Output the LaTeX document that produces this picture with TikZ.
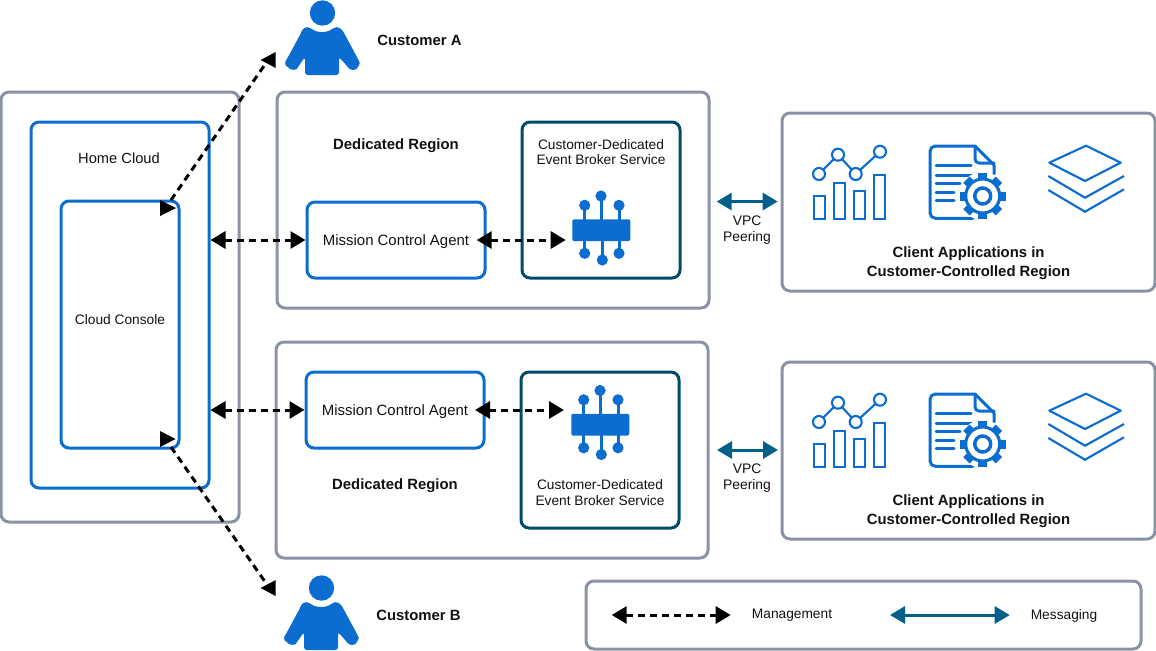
\documentclass[tikz,border=0pt]{standalone}
\usepackage{fontspec}
\setmainfont{Liberation Sans}
\usetikzlibrary{arrows.meta}
\definecolor{graybox}{HTML}{8A93A3}
\definecolor{bluebox}{HTML}{0C6DD0}
\definecolor{tealbox}{HTML}{004B6B}
\definecolor{tealarrow}{HTML}{00608A}
\definecolor{ink}{HTML}{111111}
\tikzset{
  x=0.75pt,y=-0.75pt,
  box/.style={draw,line width=2.25pt,rounded corners=6pt,fill=none,inner sep=0pt},
  graywide/.style={box,draw=graybox},
  bluewide/.style={box,draw=bluebox},
  tealwide/.style={box,draw=tealbox},
  lab/.style={text=ink,font=\fontsize{10.3pt}{11.4pt}\selectfont,align=center,inner sep=0pt},
  labagent/.style={text=ink,font=\fontsize{11.2pt}{14pt}\selectfont,align=center,inner sep=0pt},
  labvpc/.style={text=ink,font=\fontsize{10.4pt}{12pt}\selectfont,align=center,inner sep=0pt},
  labb/.style={text=ink,font=\fontsize{11.15pt}{14.25pt}\selectfont\bfseries,align=center,inner sep=0pt},
  mgmt/.style={draw=black,line width=2.25pt,dash pattern=on 5.25pt off 3.75pt},
  mgmtboth/.style={mgmt,{Triangle[length=11.25pt,width=12.75pt,fill=black]}-{Triangle[length=11.25pt,width=12.75pt,fill=black]}},
  msg/.style={draw=tealarrow,line width=2.25pt,{Triangle[length=11.25pt,width=12.75pt,fill=tealarrow]}-{Triangle[length=11.25pt,width=12.75pt,fill=tealarrow]}},
  iconline/.style={draw=bluebox,line width=1.6pt,fill=none},
  iconthick/.style={draw=bluebox,line width=2.25pt,fill=none,line cap=round,line join=round},
  person/.pic={
    \fill[bluebox] (322.5,13) circle (12.7);
    \fill[bluebox,rounded corners=2pt] (305,57) -- (305,75) -- (339,75) -- (339,57) -- (347,66)
      .. controls (351,71) and (356,70) .. (358.5,66)
      .. controls (360,63) and (359,61) .. (358,59)
      -- (344,33) .. controls (341,28) and (338,27) .. (334,27.5)
      .. controls (327,33) and (317,33) .. (310,27.5)
      .. controls (306,27) and (303,28) .. (301,33)
      -- (287,59) .. controls (285,62) and (285,65) .. (288,67)
      .. controls (291,70) and (296,70) .. (298,67) -- cycle;
  },
  iconchip/.pic={
    \draw[bluebox,line width=2.25pt]
      (584.7,205.3) -- (584.7,230) (601,196) -- (601,230) (619,205.3) -- (619,230)
      (584.7,253.3) -- (584.7,230) (602.3,260) -- (602.3,230) (619,253.3) -- (619,230);
    \fill[bluebox,rounded corners=1pt] (572.3,219.3) rectangle (630.3,241);
    \foreach \p/\q in {584.7/205.3,601/196,619/205.3,584.7/253.3,602.3/260,619/253.3}
      \fill[bluebox] (\p,\q) circle (5.6);
  },
  iconchart/.pic={
    \foreach \a/\b in {814/195.7,834/183.3,854/190.7,874/175}
      \draw[iconline] (\a,\b) rectangle (\a+11,219);
    \draw[iconline] (819,174) -- (838,154.7) -- (855.7,174) -- (880,151.7);
    \foreach \p/\q in {819/174,838/154.7,855.7/174,880/151.7}
      \draw[iconline,fill=white] (\p,\q) circle (6);
  },
  icondoc/.pic={
    \draw[iconthick,rounded corners=4pt] (973,218.3) -- (930,218.3) -- (930,146) -- (975,146);
    \draw[iconthick] (975,146) -- (994,165) -- (994,174);
    \draw[iconthick,rounded corners=3pt] (975,147) -- (975,163) -- (994,163);
    \foreach \b/\c in {971/165.7,973/175,960/183.3,954/192.3,954/200}
      \draw[iconthick] (936,\c) -- (\b,\c);
    \fill[white] (982.7,196) circle (24);
    \foreach \r in {0,45,...,315}
      \fill[bluebox,rotate around={\r:(982.7,196)}] (978.2,173) rectangle (987.2,182);
    \draw[bluebox,line width=2.3pt,fill=white] (982.7,196) circle (17);
    \draw[bluebox,line width=2.6pt,fill=white] (982.7,196) circle (8);
  },
  iconlayers/.pic={
    \draw[iconline,line join=round] (1086,145.7) -- (1120.7,162.7) -- (1085,181) -- (1049.3,162.7) -- cycle;
    \draw[iconline] (1048.3,176) -- (1085,197.7) -- (1124,176);
    \draw[iconline] (1048.3,190) -- (1085,211.7) -- (1124,189.3);
  },
}
\begin{document}
\begin{tikzpicture}
\useasboundingbox (0,0) rectangle (1156,650);
\begin{scope}
\clip (0,0) rectangle (1156,650);

% containers
\node[graywide,minimum width=178.5pt,minimum height=322.5pt] (outer) at (120,307) {};
\node[bluewide,minimum width=133.5pt,minimum height=274.5pt] (home) at (120,305) {};
\node[bluewide,minimum width=88.5pt,minimum height=185.25pt] (console) at (120,324.5) {};
\node[graywide,minimum width=324pt,minimum height=162pt] (region1) at (493,200) {};
\node[graywide,minimum width=324pt,minimum height=162pt] (region2) at (492,450) {};
\node[bluewide,minimum width=133.5pt,minimum height=57pt] (agent1) at (396,240) {};
\node[bluewide,minimum width=133.5pt,minimum height=57pt] (agent2) at (395,410) {};
\node[tealwide,minimum width=118.5pt,minimum height=117pt] (broker1) at (601,200) {};
\node[tealwide,minimum width=118.5pt,minimum height=117pt] (broker2) at (600,450) {};
\node[graywide,minimum width=279.75pt,minimum height=133.5pt] (client1) at (968.5,202) {};
\node[graywide,minimum width=279.75pt,minimum height=132.75pt] (client2) at (968.5,450.5) {};
\node[graywide,minimum width=416.25pt,minimum height=51pt] (legend) at (863.5,615) {};

% icons
\pic at (0,0) {person};
\pic at (-1,575) {person};
\pic at (0,0) {iconchip};
\pic at (-1,194.5) {iconchip};
\pic at (0,0) {iconchart};
\pic at (0,0) {icondoc};
\pic at (0,0) {iconlayers};
\pic at (0,248) {iconchart};
\pic at (0,248) {icondoc};
\pic at (0,248) {iconlayers};

% labels
\node[labb] (custa) at (419.5,40) {Customer A};
\node[labb] (custb) at (418.5,615) {Customer B};
\node[labagent,font=\fontsize{11pt}{14pt}\selectfont] (homelab) at (119,158.5) {Home Cloud};
\node[lab] (conslab) at (120,320) {Cloud Console};
\node[labb] (reglab1) at (396,146) {Dedicated Region};
\node[labb] (reglab2) at (395,486) {Dedicated Region};
\node[labagent] (aglab1) at (396,241.5) {Mission Control Agent};
\node[labagent] (aglab2) at (395,411.5) {Mission Control Agent};
\node[lab] (brlab1) at (601,152) {Customer-Dedicated\\Event Broker Service};
\node[lab] (brlab2) at (600,492.5) {Customer-Dedicated\\Event Broker Service};
\node[labvpc] (vpc1) at (747,230) {VPC\\Peering};
\node[labvpc] (vpc2) at (747,478) {VPC\\Peering};
\node[labb] (clab1) at (968.5,263) {Client Applications in\\Customer-Controlled Region};
\node[labb] (clab2) at (968.5,511) {Client Applications in\\Customer-Controlled Region};
\node[lab] (lgm) at (792,615.5) {Management};
\node[lab] (lgs) at (1064,615.5) {Messaging};

% free connector ends
\coordinate (a1r) at (476.7,240);
\coordinate (b1l) at (565.7,240);
\coordinate (a2r) at (475,410);
\coordinate (b2l) at (564,410);
\coordinate (v1l) at (716.7,201.5);
\coordinate (v1r) at (777.7,201.5);
\coordinate (v2l) at (717,450);
\coordinate (v2r) at (778,450);
\coordinate (lm1) at (611.7,615);
\coordinate (lm2) at (730.7,615);
\coordinate (ls1) at (890,615);
\coordinate (ls2) at (1009.7,615);
\coordinate (ctop) at (171,200);
\coordinate (ca) at (266,63);
\coordinate (cbot) at (171,447);
\coordinate (cb) at (268,586);

% connectors
\draw[mgmtboth] (home.east |- agent1) -- (agent1.west);
\draw[mgmtboth] (home.east |- agent2) -- (agent2.west);
\draw[mgmtboth] (a1r) -- (b1l);
\draw[mgmtboth] (a2r) -- (b2l);
\draw[mgmtboth] (lm1) -- (lm2);
\draw[msg] (v1l) -- (v1r);
\draw[msg] (v2l) -- (v2r);
\draw[msg] (ls1) -- (ls2);
\draw[mgmt] (ctop) -- (ca);
\draw[mgmt] (cbot) -- (cb);
\fill[black] (160,200) -- (176,208) -- (160,216) -- cycle;
\fill[black] (160,431) -- (175.5,439) -- (160,447) -- cycle;
\fill[black] (275.7,52) -- (260.7,60) -- (275.7,68) -- cycle;
\fill[black] (275.7,580) -- (260.7,588) -- (275.7,596) -- cycle;
\end{scope}
\end{tikzpicture}
\end{document}
